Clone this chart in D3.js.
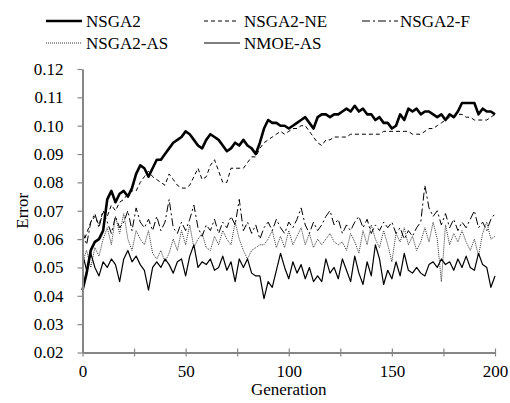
<!DOCTYPE html>
<html>
<head>
<meta charset="utf-8">
<script src="https://cdn.jsdelivr.net/npm/d3@7"></script>
<style>
  body { margin: 0; background: #fff; }
</style>
</head>
<body>
<div id="chart"></div>
<script>
// generations sampled every 2
const generations = d3.range(0, 201, 2);

const nsga2 = [0.042,0.048,0.056,0.059,0.060,0.063,0.074,0.077,0.073,0.076,0.077,0.075,0.078,0.083,0.086,0.085,0.082,0.085,0.088,0.088,
  0.090,0.092,0.094,0.095,0.096,0.098,0.097,0.095,0.093,0.092,0.095,0.097,0.096,0.095,0.093,0.091,0.092,0.094,0.093,0.095,
  0.093,0.092,0.090,0.094,0.099,0.102,0.101,0.101,0.100,0.100,0.099,0.100,0.101,0.102,0.103,0.101,0.099,0.103,0.104,0.104,
  0.103,0.104,0.104,0.105,0.106,0.105,0.107,0.105,0.106,0.104,0.104,0.102,0.103,0.101,0.101,0.099,0.100,0.104,0.102,0.106,
  0.105,0.106,0.104,0.105,0.105,0.104,0.103,0.104,0.102,0.104,0.103,0.105,0.108,0.108,0.108,0.108,0.104,0.106,0.105,0.105,0.104];

const nsga2NE = [0.058,0.062,0.066,0.068,0.065,0.070,0.068,0.072,0.070,0.073,0.074,0.076,0.077,0.077,0.080,0.082,0.084,0.082,0.081,0.080,
  0.079,0.083,0.081,0.079,0.078,0.078,0.079,0.082,0.085,0.081,0.082,0.086,0.088,0.084,0.080,0.080,0.085,0.085,0.085,0.085,
  0.087,0.089,0.089,0.092,0.094,0.095,0.096,0.097,0.098,0.097,0.098,0.099,0.099,0.100,0.100,0.098,0.096,0.094,0.093,0.095,
  0.095,0.096,0.096,0.096,0.096,0.097,0.097,0.097,0.097,0.097,0.097,0.097,0.097,0.098,0.098,0.098,0.098,0.098,0.098,0.098,
  0.097,0.097,0.097,0.098,0.099,0.099,0.100,0.101,0.102,0.103,0.103,0.104,0.104,0.103,0.103,0.102,0.102,0.102,0.102,0.103,0.104];

const nsga2F = [0.063,0.058,0.066,0.069,0.064,0.070,0.066,0.062,0.068,0.064,0.066,0.070,0.063,0.071,0.066,0.064,0.067,0.063,0.068,0.063,
  0.066,0.074,0.064,0.062,0.066,0.063,0.067,0.072,0.064,0.061,0.065,0.063,0.067,0.062,0.066,0.064,0.068,0.065,0.074,0.063,
  0.066,0.062,0.065,0.060,0.064,0.066,0.063,0.067,0.064,0.062,0.066,0.064,0.067,0.071,0.065,0.062,0.066,0.063,0.065,0.068,
  0.070,0.065,0.067,0.062,0.065,0.063,0.066,0.068,0.064,0.067,0.062,0.065,0.063,0.066,0.064,0.066,0.062,0.064,0.060,0.063,
  0.061,0.064,0.066,0.079,0.071,0.068,0.070,0.065,0.069,0.064,0.067,0.063,0.066,0.064,0.067,0.070,0.064,0.066,0.063,0.067,0.069];

const nsga2AS = [0.052,0.056,0.050,0.057,0.054,0.060,0.064,0.058,0.068,0.062,0.069,0.060,0.056,0.063,0.060,0.058,0.063,0.055,0.053,0.056,
  0.052,0.055,0.060,0.056,0.063,0.058,0.065,0.057,0.060,0.062,0.057,0.056,0.061,0.058,0.063,0.060,0.058,0.066,0.060,0.056,
  0.053,0.056,0.057,0.058,0.058,0.060,0.063,0.057,0.061,0.057,0.063,0.058,0.061,0.064,0.058,0.062,0.057,0.060,0.058,0.060,
  0.062,0.059,0.058,0.059,0.056,0.062,0.059,0.055,0.063,0.058,0.065,0.060,0.057,0.063,0.058,0.052,0.062,0.059,0.064,0.058,
  0.061,0.056,0.059,0.064,0.059,0.066,0.060,0.045,0.065,0.058,0.062,0.059,0.063,0.059,0.056,0.060,0.054,0.062,0.066,0.060,0.061];

const nmoeAS = [0.055,0.049,0.055,0.050,0.047,0.052,0.050,0.053,0.051,0.045,0.053,0.056,0.052,0.054,0.051,0.049,0.042,0.050,0.052,0.050,
  0.053,0.051,0.048,0.052,0.053,0.047,0.054,0.058,0.050,0.052,0.051,0.053,0.049,0.050,0.054,0.049,0.052,0.045,0.053,0.050,
  0.053,0.048,0.047,0.047,0.039,0.045,0.043,0.049,0.055,0.050,0.046,0.052,0.048,0.051,0.046,0.050,0.045,0.047,0.045,0.053,
  0.048,0.050,0.046,0.053,0.049,0.045,0.054,0.048,0.044,0.052,0.047,0.058,0.053,0.044,0.049,0.046,0.052,0.047,0.055,0.049,
  0.048,0.050,0.048,0.047,0.051,0.052,0.050,0.053,0.051,0.052,0.049,0.053,0.050,0.054,0.050,0.049,0.055,0.051,0.050,0.043,0.047];

const seriesNames = ["NSGA2", "NSGA2-NE", "NSGA2-F", "NSGA2-AS", "NMOE-AS"];
const yTicks = [0.02,0.03,0.04,0.05,0.06,0.07,0.08,0.09,0.10,0.11,0.12];
const xTicks = [0,25,50,75,100,125,150,175,200];

const W = 510, H = 403;
const plotLeft = 82.5, plotRight = 495, plotTop = 69, plotBottom = 352.5;
const FONT = "'Liberation Serif', 'Times New Roman', Times, 'DejaVu Serif', serif";

const series = [
  {name: seriesNames[0], values: nsga2,   width: 2.6, dash: null,        color: "#000"},
  {name: seriesNames[1], values: nsga2NE, width: 1,   dash: "4,3",       color: "#000"},
  {name: seriesNames[2], values: nsga2F,  width: 1,   dash: "8,3,2,3",   color: "#000"},
  {name: seriesNames[3], values: nsga2AS, width: 1,   dash: "1,1",       color: "#333"},
  {name: seriesNames[4], values: nmoeAS,  width: 1.2, dash: null,        color: "#000"}
];

const svg = d3.select("#chart").append("svg")
  .attr("width", W)
  .attr("height", H)
  .attr("font-family", FONT);

const x = d3.scaleLinear().domain([0, 200]).range([plotLeft, plotRight]);
const y = d3.scaleLinear().domain([0.02, 0.12]).range([plotBottom, plotTop]);

const line = d3.line()
  .x((d, i) => x(generations[i]))
  .y(d => y(d));

// draw lines back to front
[3, 2, 4, 1, 0].forEach(k => {
  const s = series[k];
  svg.append("path")
    .attr("d", line(s.values))
    .attr("fill", "none")
    .attr("stroke", s.color)
    .attr("stroke-width", s.width)
    .attr("stroke-linejoin", "round")
    .attr("stroke-dasharray", s.dash);
});

const axisColor = "#868686";

// y axis
const yAxis = svg.append("g")
  .attr("transform", `translate(${plotLeft},0)`)
  .call(d3.axisLeft(y).tickValues(yTicks).tickFormat(d3.format(".2f")).tickSize(5).tickSizeOuter(0).tickPadding(14));

// x axis
const xAxis = svg.append("g")
  .attr("transform", `translate(0,${plotBottom})`)
  .call(d3.axisBottom(x).tickValues(xTicks).tickFormat(d => d % 50 === 0 ? d : "").tickSize(4).tickSizeOuter(0).tickPadding(8));
xAxis.selectAll(".tick line").attr("y1", -4).attr("y2", 4);

[yAxis, xAxis].forEach(g => {
  g.attr("font-family", FONT).attr("font-size", 17);
  g.select(".domain").attr("stroke", axisColor).attr("stroke-width", 2);
  g.selectAll(".tick line").attr("stroke", axisColor).attr("stroke-width", 1.2);
  g.selectAll(".tick text").attr("fill", "#000");
});

// axis titles
svg.append("text")
  .attr("x", (plotLeft + plotRight) / 2)
  .attr("y", 395)
  .attr("text-anchor", "middle")
  .attr("font-size", 17)
  .text("Generation");

svg.append("text")
  .attr("transform", `translate(27.5,${(plotTop + plotBottom) / 2}) rotate(-90)`)
  .attr("text-anchor", "middle")
  .attr("font-size", 17)
  .text("Error");

// legend
const legendPos = [
  {x1: 46, x2: 82, tx: 86, y: 21},
  {x1: 204, x2: 238, tx: 244, y: 21},
  {x1: 362, x2: 398, tx: 400, y: 21},
  {x1: 46, x2: 82, tx: 86, y: 43},
  {x1: 204, x2: 240, tx: 244, y: 43}
];

series.forEach((s, i) => {
  const p = legendPos[i];
  svg.append("line")
    .attr("x1", p.x1).attr("x2", p.x2)
    .attr("y1", p.y).attr("y2", p.y)
    .attr("stroke", s.color)
    .attr("stroke-width", s.width)
    .attr("stroke-dasharray", s.dash);
  svg.append("text")
    .attr("x", p.tx)
    .attr("y", p.y + 6)
    .attr("font-size", 17)
    .text(s.name);
});
</script>
</body>
</html>
